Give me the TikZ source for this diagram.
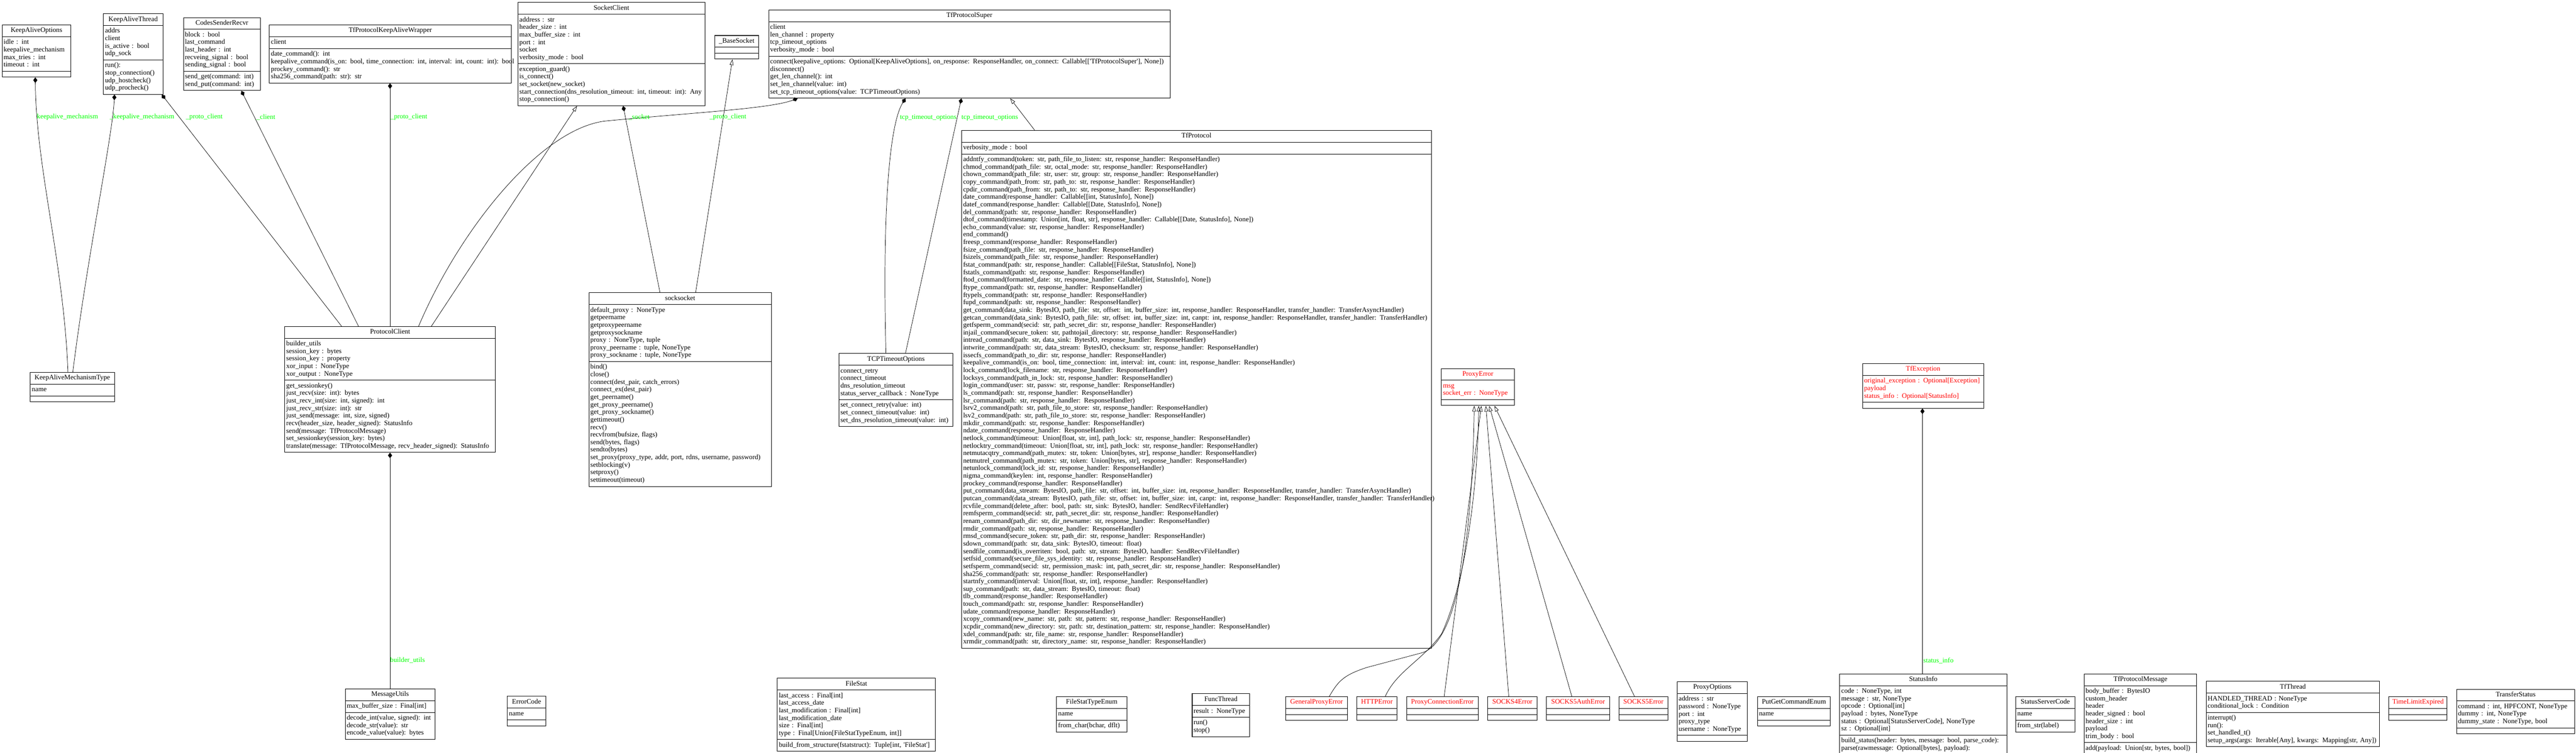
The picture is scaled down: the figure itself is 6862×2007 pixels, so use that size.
\documentclass[tikz,border=0pt]{standalone}
\usepackage{fontspec}
\setmainfont{Liberation Serif}
\usetikzlibrary{shapes.multipart,arrows.meta}
\newcommand{\umlfont}{\fontsize{9.15}{10.05}\selectfont}
\newcommand{\classparts}[3]{\makebox[\boxw][c]{\strut#1}\nodepart{two}\begin{tabular}{@{}l@{}}#2\end{tabular}\nodepart{three}\begin{tabular}{@{}l@{}}#3\end{tabular}}
\tikzset{
  umlclass/.style={draw, line width=0.7pt, rectangle split, rectangle split parts=3, anchor=north west,
    inner xsep=2pt, inner ysep=2.475pt, align=left, font=\umlfont,
    /utils/exec={\pgfmathsetlengthmacro\boxw{#1*0.5pt-4pt}}, text width=\boxw},
  exc/.style={text=red},
  comp/.style={line width=0.5pt, -{Diamond[length=7.5pt,width=5.5pt]}},
  inh/.style={line width=0.5pt, -{Triangle[open,length=7.5pt,width=5pt]}},
  role/.style={text=green, font=\umlfont, anchor=west, inner sep=0pt}
}
\begin{document}
\catcode`\_=12
\begin{tikzpicture}[x=0.5pt,y=-0.5pt]
\useasboundingbox (0,0) rectangle (6862,2007);
% top row
\node[umlclass=183] (KeepAliveOptions) at (5,66) {\classparts{KeepAliveOptions}{idle : int\\keepalive_mechanism\\max_tries : int\\timeout : int}{}};
\node[umlclass=158] (KeepAliveThread) at (275,36) {\classparts{KeepAliveThread}{addrs\\client\\is_active : bool\\udp_sock}{run():\\stop_connection()\\udp_hostcheck()\\udp_procheck()}};
\node[umlclass=205] (CodesSenderRecvr) at (488,46) {\classparts{CodesSenderRecvr}{block : bool\\last_command\\last_header : int\\recveing_signal : bool\\sending_signal : bool}{send_get(command: int)\\send_put(command: int)}};
\node[umlclass=644] (KeepAliveWrapper) at (717,66) {\classparts{TfProtocolKeepAliveWrapper}{client}{date_command(): int\\keepalive_command(is_on: bool, time_connection: int, interval: int, count: int): bool\\prockey_command(): str\\sha256_command(path: str): str}};
\node[umlclass=498] (SocketClient) at (1379,6) {\classparts{SocketClient}{address : str\\header_size : int\\max_buffer_size : int\\port : int\\socket\\verbosity_mode : bool}{exception_guard()\\is_connect()\\set_socket(new_socket)\\start_connection(dns_resolution_timeout: int, timeout: int): Any\\stop_connection()}};
\node[umlclass=117] (BaseSocket) at (1903,94) {\classparts{_BaseSocket}{}{}};
\node[umlclass=1069] (TfProtocolSuper) at (2047,26) {\classparts{TfProtocolSuper}{client\\len_channel : property\\tcp_timeout_options\\verbosity_mode : bool}{connect(keepalive_options: Optional[KeepAliveOptions], on_response: ResponseHandler, on_connect: Callable[[\textquotesingle TfProtocolSuper\textquotesingle], None])\\disconnect()\\get_len_channel(): int\\set_len_channel(value: int)\\set_tcp_timeout_options(value: TCPTimeoutOptions)}};
% big protocol class
\node[umlclass=1251] (TfProtocol) at (2561,347) {\classparts{TfProtocol}{verbosity_mode : bool}{%
addntfy_command(token: str, path_file_to_listen: str, response_handler: ResponseHandler)\\
chmod_command(path_file: str, octal_mode: str, response_handler: ResponseHandler)\\
chown_command(path_file: str, user: str, group: str, response_handler: ResponseHandler)\\
copy_command(path_from: str, path_to: str, response_handler: ResponseHandler)\\
cpdir_command(path_from: str, path_to: str, response_handler: ResponseHandler)\\
date_command(response_handler: Callable[[int, StatusInfo], None])\\
datef_command(response_handler: Callable[[Date, StatusInfo], None])\\
del_command(path: str, response_handler: ResponseHandler)\\
dtof_command(timestamp: Union[int, float, str], response_handler: Callable[[Date, StatusInfo], None])\\
echo_command(value: str, response_handler: ResponseHandler)\\
end_command()\\
freesp_command(response_handler: ResponseHandler)\\
fsize_command(path_file: str, response_handler: ResponseHandler)\\
fsizels_command(path_file: str, response_handler: ResponseHandler)\\
fstat_command(path: str, response_handler: Callable[[FileStat, StatusInfo], None])\\
fstatls_command(path: str, response_handler: ResponseHandler)\\
ftod_command(formatted_date: str, response_handler: Callable[[int, StatusInfo], None])\\
ftype_command(path: str, response_handler: ResponseHandler)\\
ftypels_command(path: str, response_handler: ResponseHandler)\\
fupd_command(path: str, response_handler: ResponseHandler)\\
get_command(data_sink: BytesIO, path_file: str, offset: int, buffer_size: int, response_handler: ResponseHandler, transfer_handler: TransferAsyncHandler)\\
getcan_command(data_sink: BytesIO, path_file: str, offset: int, buffer_size: int, canpt: int, response_handler: ResponseHandler, transfer_handler: TransferHandler)\\
getfsperm_command(secid: str, path_secret_dir: str, response_handler: ResponseHandler)\\
injail_command(secure_token: str, pathtojail_directory: str, response_handler: ResponseHandler)\\
intread_command(path: str, data_sink: BytesIO, response_handler: ResponseHandler)\\
intwrite_command(path: str, data_stream: BytesIO, checksum: str, response_handler: ResponseHandler)\\
issecfs_command(path_to_dir: str, response_handler: ResponseHandler)\\
keepalive_command(is_on: bool, time_connection: int, interval: int, count: int, response_handler: ResponseHandler)\\
lock_command(lock_filename: str, response_handler: ResponseHandler)\\
locksys_command(path_in_lock: str, response_handler: ResponseHandler)\\
login_command(user: str, passw: str, response_handler: ResponseHandler)\\
ls_command(path: str, response_handler: ResponseHandler)\\
lsr_command(path: str, response_handler: ResponseHandler)\\
lsrv2_command(path: str, path_file_to_store: str, response_handler: ResponseHandler)\\
lsv2_command(path: str, path_file_to_store: str, response_handler: ResponseHandler)\\
mkdir_command(path: str, response_handler: ResponseHandler)\\
ndate_command(response_handler: ResponseHandler)\\
netlock_command(timeout: Union[float, str, int], path_lock: str, response_handler: ResponseHandler)\\
netlocktry_command(timeout: Union[float, str, int], path_lock: str, response_handler: ResponseHandler)\\
netmutacqtry_command(path_mutex: str, token: Union[bytes, str], response_handler: ResponseHandler)\\
netmutrel_command(path_mutex: str, token: Union[bytes, str], response_handler: ResponseHandler)\\
netunlock_command(lock_id: str, response_handler: ResponseHandler)\\
nigma_command(keylen: int, response_handler: ResponseHandler)\\
prockey_command(response_handler: ResponseHandler)\\
put_command(data_stream: BytesIO, path_file: str, offset: int, buffer_size: int, response_handler: ResponseHandler, transfer_handler: TransferAsyncHandler)\\
putcan_command(data_stream: BytesIO, path_file: str, offset: int, buffer_size: int, canpt: int, response_handler: ResponseHandler, transfer_handler: TransferHandler)\\
rcvfile_command(delete_after: bool, path: str, sink: BytesIO, handler: SendRecvFileHandler)\\
remfsperm_command(secid: str, path_secret_dir: str, response_handler: ResponseHandler)\\
renam_command(path_dir: str, dir_newname: str, response_handler: ResponseHandler)\\
rmdir_command(path: str, response_handler: ResponseHandler)\\
rmsd_command(secure_token: str, path_dir: str, response_handler: ResponseHandler)\\
sdown_command(path: str, data_sink: BytesIO, timeout: float)\\
sendfile_command(is_overriten: bool, path: str, stream: BytesIO, handler: SendRecvFileHandler)\\
setfsid_command(secure_file_sys_identity: str, response_handler: ResponseHandler)\\
setfsperm_command(secid: str, permission_mask: int, path_secret_dir: str, response_handler: ResponseHandler)\\
sha256_command(path: str, response_handler: ResponseHandler)\\
startnfy_command(interval: Union[float, str, int], response_handler: ResponseHandler)\\
sup_command(path: str, data_stream: BytesIO, timeout: float)\\
tlb_command(response_handler: ResponseHandler)\\
touch_command(path: str, response_handler: ResponseHandler)\\
udate_command(response_handler: ResponseHandler)\\
xcopy_command(new_name: str, path: str, pattern: str, response_handler: ResponseHandler)\\
xcpdir_command(new_directory: str, path: str, destination_pattern: str, response_handler: ResponseHandler)\\
xdel_command(path: str, file_name: str, response_handler: ResponseHandler)\\
xrmdir_command(path: str, directory_name: str, response_handler: ResponseHandler)}};
% middle row
\node[umlclass=224] (KeepAliveMechanismType) at (80,992) {\classparts{KeepAliveMechanismType}{name}{}};
\node[umlclass=561] (ProtocolClient) at (758,870) {\classparts{ProtocolClient}{builder_utils\\session_key : bytes\\session_key : property\\xor_input : NoneType\\xor_output : NoneType}{get_sessionkey()\\just_recv(size: int): bytes\\just_recv_int(size: int, signed): int\\just_recv_str(size: int): str\\just_send(message: int, size, signed)\\recv(header_size, header_signed): StatusInfo\\send(message: TfProtocolMessage)\\set_sessionkey(session_key: bytes)\\translate(message: TfProtocolMessage, recv_header_signed): StatusInfo}};
\node[umlclass=486] (socksocket) at (1568,780) {\classparts{socksocket}{default_proxy : NoneType\\getpeername\\getproxypeername\\getproxysockname\\proxy : NoneType, tuple\\proxy_peername : tuple, NoneType\\proxy_sockname : tuple, NoneType}{bind()\\close()\\connect(dest_pair, catch_errors)\\connect_ex(dest_pair)\\get_peername()\\get_proxy_peername()\\get_proxy_sockname()\\gettimeout()\\recv()\\recvfrom(bufsize, flags)\\send(bytes, flags)\\sendto(bytes)\\set_proxy(proxy_type, addr, port, rdns, username, password)\\setblocking(v)\\setproxy()\\settimeout(timeout)}};
\node[umlclass=304] (TCPTimeoutOptions) at (2234,942) {\classparts{TCPTimeoutOptions}{connect_retry\\connect_timeout\\dns_resolution_timeout\\status_server_callback : NoneType}{set_connect_retry(value: int)\\set_connect_timeout(value: int)\\set_dns_resolution_timeout(value: int)}};
\node[umlclass=194,exc] (ProxyError) at (3839,982) {\classparts{ProxyError}{msg\\socket_err : NoneType}{}};
\node[umlclass=322,exc] (TfException) at (4961,969) {\classparts{TfException}{original_exception : Optional[Exception]\\payload\\status_info : Optional[StatusInfo]}{}};
% bottom row
\node[umlclass=239] (MessageUtils) at (919,1836) {\classparts{MessageUtils}{max_buffer_size : Final[int]}{decode_int(value, signed): int\\decode_str(value): str\\encode_value(value): bytes}};
\node[umlclass=102] (ErrorCode) at (1351,1856) {\classparts{ErrorCode}{name}{}};
\node[umlclass=421] (FileStat) at (2070,1808) {\classparts{FileStat}{last_access : Final[int]\\last_access_date\\last_modification : Final[int]\\last_modification_date\\size : Final[int]\\type : Final[Union[FileStatTypeEnum, int]]}{build_from_structure(fstatstruct): Tuple[int, \textquotesingle FileStat\textquotesingle]}};
\node[umlclass=187] (FileStatTypeEnum) at (2814,1857) {\classparts{FileStatTypeEnum}{name}{from_char(bchar, dflt)}};
\node[umlclass=153] (FuncThread) at (3175,1849) {\classparts{FuncThread}{result : NoneType}{run()\\stop()}};
\node[umlclass=165,exc] (GeneralProxyError) at (3424,1857) {\classparts{GeneralProxyError}{}{}};
\node[umlclass=108,exc] (HTTPError) at (3613,1857) {\classparts{HTTPError}{}{}};
\node[umlclass=191,exc] (ProxyConnectionError) at (3746,1857) {\classparts{ProxyConnectionError}{}{}};
\node[umlclass=132,exc] (SOCKSFourError) at (3962,1857) {\classparts{SOCKS4Error}{}{}};
\node[umlclass=168,exc] (SOCKSFiveAuthError) at (4119,1857) {\classparts{SOCKS5AuthError}{}{}};
\node[umlclass=130,exc] (SOCKSFiveError) at (4312,1857) {\classparts{SOCKS5Error}{}{}};
\node[umlclass=187] (ProxyOptions) at (4467,1817) {\classparts{ProxyOptions}{address : str\\password : NoneType\\port : int\\proxy_type\\username : NoneType}{}};
\node[umlclass=194] (PutGetCommandEnum) at (4681,1857) {\classparts{PutGetCommandEnum}{name}{}};
\node[umlclass=445] (StatusInfo) at (4900,1796) {\classparts{StatusInfo}{code : NoneType, int\\message : str, NoneType\\opcode : Optional[int]\\payload : bytes, NoneType\\status : Optional[StatusServerCode], NoneType\\sz : Optional[int]}{build_status(header: bytes, message: bool, parse_code):\\parse(rawmessage: Optional[bytes], payload):}};
\node[umlclass=157] (StatusServerCode) at (5369,1857) {\classparts{StatusServerCode}{name}{from_str(label)}};
\node[umlclass=300] (TfProtocolMessage) at (5551,1796) {\classparts{TfProtocolMessage}{body_buffer : BytesIO\\custom_header\\header\\header_signed : bool\\header_size : int\\payload\\trim_body : bool}{add(payload: Union[str, bytes, bool])}};
\node[umlclass=462] (TfThread) at (5876,1816) {\classparts{TfThread}{HANDLED_THREAD : NoneType\\conditional_lock : Condition}{interrupt()\\run():\\set_handled_t()\\setup_args(args: Iterable[Any], kwargs: Mapping[str, Any])}};
\node[umlclass=155,exc] (TimeLimitExpired) at (6363,1857) {\classparts{TimeLimitExpired}{}{}};
\node[umlclass=315] (TransferStatus) at (6543,1837) {\classparts{TransferStatus}{command : int, HPFCONT, NoneType\\dummy : int, NoneType\\dummy_state : NoneType, bool}{}};
% compositions
\draw[comp] (KeepAliveMechanismType.north -| 181,0) .. controls (170,700) and (96,450) .. (KeepAliveOptions.south -| 94,0);
\draw[comp] (KeepAliveMechanismType.north -| 194,0) .. controls (230,700) and (300,360) .. (KeepAliveThread.south -| 305,0);
\draw[comp] (ProtocolClient.north -| 910,0) -- (KeepAliveThread.south -| 431,0);
\draw[comp] (ProtocolClient.north -| 955,0) -- (CodesSenderRecvr.south -| 643,0);
\draw[comp] (ProtocolClient.north -| 1039,0) -- (KeepAliveWrapper.south -| 1039,0);
\draw[comp] (ProtocolClient.north -| 1115,0) .. controls (1230,600) and (1450,335) .. (1620,322) .. controls (1850,300) and (2050,290) .. (TfProtocolSuper.south -| 2125,0);
\draw[comp] (socksocket.north -| 1758,0) -- (SocketClient.south -| 1660,0);
\draw[comp] (TCPTimeoutOptions.north -| 2360,0) .. controls (2350,550) and (2370,330) .. (TfProtocolSuper.south -| 2412,0);
\draw[comp] (TCPTimeoutOptions.north -| 2412,0) -- (TfProtocolSuper.south -| 2561,0);
\draw[comp] (MessageUtils.north -| 1039,0) -- (ProtocolClient.south -| 1039,0);
\draw[comp] (StatusInfo.north -| 5121,0) -- (TfException.south -| 5121,0);
% inheritance
\draw[inh] (ProtocolClient.north -| 1149,0) -- (SocketClient.south -| 1537,0);
\draw[inh] (socksocket.north -| 1853,0) -- (BaseSocket.south -| 1951,0);
\draw[inh] (TfProtocol.north -| 2756,0) -- (TfProtocolSuper.south -| 2691,0);
\draw[inh] (GeneralProxyError.north -| 3541,0) .. controls (3565,1815) and (3580,1800) .. (3640,1780) -- (3790,1740) .. controls (3890,1705) and (3922,1400) .. (ProxyError.south -| 3927,0);
\draw[inh] (HTTPError.north -| 3690,0) .. controls (3720,1790) and (3790,1760) .. (3840,1690) .. controls (3905,1550) and (3936,1300) .. (ProxyError.south -| 3939,0);
\draw[inh] (ProxyConnectionError.north -| 3847,0) -- (ProxyError.south -| 3946,0);
\draw[inh] (SOCKSFourError.north -| 4019,0) -- (ProxyError.south -| 3958,0);
\draw[inh] (SOCKSFiveAuthError.north -| 4187,0) -- (ProxyError.south -| 3967,0);
\draw[inh] (SOCKSFiveError.north -| 4354,0) -- (ProxyError.south -| 3981,0);
% role labels
\node[role] (lblKam) at (98,312) {keepalive_mechanism};
\node[role] (lblKamThread) at (292,312) {_keepalive_mechanism};
\node[role] (lblProtoThread) at (495,312) {_proto_client};
\node[role] (lblClient) at (683,312) {_client};
\node[role] (lblProtoWrapper) at (1040,312) {_proto_client};
\node[role] (lblSocket) at (1674,312) {_socket};
\node[role] (lblProtoSuper) at (1890,312) {_proto_client};
\node[role] (lblTcpOne) at (2397,313) {tcp_timeout_options};
\node[role] (lblTcpTwo) at (2561,313) {tcp_timeout_options};
\node[role] (lblBuilder) at (1039,1761) {builder_utils};
\node[role] (lblStatus) at (5123,1761) {status_info};
\end{tikzpicture}
\end{document}
